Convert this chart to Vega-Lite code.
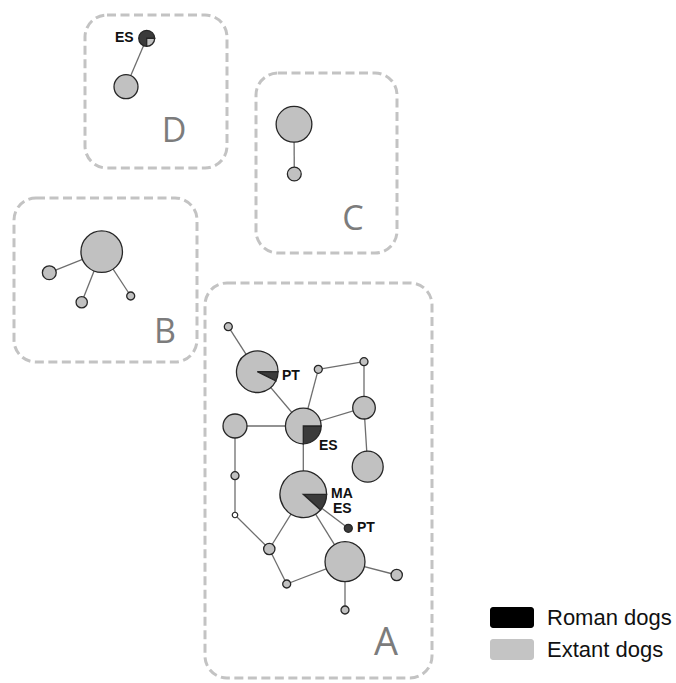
{
  "$schema": "https://vega.github.io/schema/vega-lite/v6.json",
  "width": 676,
  "height": 683,
  "autosize": {"type": "none"},
  "padding": 0,
  "background": "white",
  "config": {"view": {"stroke": null}},
  "datasets": {
    "nodes": [
      {"id": "D1", "x": 146.7, "y": 38.3}, {"id": "D2", "x": 126, "y": 86.7},
      {"id": "C1", "x": 294, "y": 124.3}, {"id": "C2", "x": 294.3, "y": 174},
      {"id": "B1", "x": 101.7, "y": 251.7}, {"id": "B2", "x": 49.3, "y": 272.7},
      {"id": "B3", "x": 81.7, "y": 302.3}, {"id": "B4", "x": 130.7, "y": 296},
      {"id": "A1", "x": 228.3, "y": 326.7}, {"id": "A2", "x": 257.3, "y": 371.7},
      {"id": "A3", "x": 318.3, "y": 369.3}, {"id": "A4", "x": 364, "y": 361.7},
      {"id": "A5", "x": 303.3, "y": 426}, {"id": "A6", "x": 235, "y": 426},
      {"id": "A7", "x": 364, "y": 407.7}, {"id": "A8", "x": 367.7, "y": 466.7},
      {"id": "A9", "x": 235, "y": 475.7}, {"id": "A10", "x": 235, "y": 515},
      {"id": "A11", "x": 303.3, "y": 494.3}, {"id": "A12", "x": 348.3, "y": 528.3},
      {"id": "A13", "x": 269.3, "y": 549}, {"id": "A14", "x": 286.7, "y": 584},
      {"id": "A15", "x": 345, "y": 561.7}, {"id": "A16", "x": 396.7, "y": 575},
      {"id": "A17", "x": 345, "y": 610}
    ],
    "haplotypes": [
      {"node": "D1", "category": "Roman dogs", "count": 3},
      {"node": "D1", "category": "Extant dogs", "count": 1},
      {"node": "D2", "category": "Extant dogs", "count": 9},
      {"node": "C1", "category": "Extant dogs", "count": 20},
      {"node": "C2", "category": "Extant dogs", "count": 3},
      {"node": "B1", "category": "Extant dogs", "count": 27},
      {"node": "B2", "category": "Extant dogs", "count": 3},
      {"node": "B3", "category": "Extant dogs", "count": 2},
      {"node": "B4", "category": "Extant dogs", "count": 1},
      {"node": "A1", "category": "Extant dogs", "count": 1},
      {"node": "A2", "category": "Roman dogs", "count": 2},
      {"node": "A2", "category": "Extant dogs", "count": 25},
      {"node": "A3", "category": "Extant dogs", "count": 1},
      {"node": "A4", "category": "Extant dogs", "count": 1},
      {"node": "A5", "category": "Roman dogs", "count": 5},
      {"node": "A5", "category": "Extant dogs", "count": 15},
      {"node": "A6", "category": "Extant dogs", "count": 9},
      {"node": "A7", "category": "Extant dogs", "count": 8},
      {"node": "A8", "category": "Extant dogs", "count": 15},
      {"node": "A9", "category": "Extant dogs", "count": 1},
      {"node": "A11", "category": "Roman dogs", "count": 4},
      {"node": "A11", "category": "Extant dogs", "count": 30},
      {"node": "A12", "category": "Roman dogs", "count": 1},
      {"node": "A13", "category": "Extant dogs", "count": 2},
      {"node": "A14", "category": "Extant dogs", "count": 1},
      {"node": "A15", "category": "Extant dogs", "count": 25},
      {"node": "A16", "category": "Extant dogs", "count": 2},
      {"node": "A17", "category": "Extant dogs", "count": 1}
    ],
    "medianVectors": [{"node": "A10"}],
    "links": [
      {"from": "D1", "to": "D2"}, {"from": "C1", "to": "C2"},
      {"from": "B1", "to": "B2"}, {"from": "B1", "to": "B3"}, {"from": "B1", "to": "B4"},
      {"from": "A1", "to": "A2"}, {"from": "A2", "to": "A5"}, {"from": "A3", "to": "A5"},
      {"from": "A3", "to": "A4"}, {"from": "A4", "to": "A7"}, {"from": "A7", "to": "A5"},
      {"from": "A7", "to": "A8"}, {"from": "A6", "to": "A5"}, {"from": "A6", "to": "A9"},
      {"from": "A9", "to": "A10"}, {"from": "A5", "to": "A11"}, {"from": "A10", "to": "A13"},
      {"from": "A11", "to": "A13"}, {"from": "A11", "to": "A12"}, {"from": "A11", "to": "A15"},
      {"from": "A13", "to": "A14"}, {"from": "A14", "to": "A15"}, {"from": "A15", "to": "A16"},
      {"from": "A15", "to": "A17"}
    ],
    "clusters": [
      {"cluster": "A", "x0": 205, "x1": 432, "y0": 283, "y1": 678, "lx": 386, "ly": 655, "size": 38},
      {"cluster": "B", "x0": 14, "x1": 197, "y0": 198, "y1": 362, "lx": 165, "ly": 343, "size": 34},
      {"cluster": "C", "x0": 256, "x1": 397, "y0": 73, "y1": 253, "lx": 353, "ly": 230, "size": 34},
      {"cluster": "D", "x0": 85, "x1": 227, "y0": 15, "y1": 168, "lx": 174, "ly": 142, "size": 34}
    ],
    "origins": [
      {"text": "ES", "x": 115, "y": 41.5},
      {"text": "PT", "x": 282, "y": 380},
      {"text": "ES", "x": 319, "y": 449.5},
      {"text": "MA", "x": 331, "y": 498},
      {"text": "ES", "x": 333, "y": 513},
      {"text": "PT", "x": 357, "y": 532}
    ],
    "key": [{"category": "Roman dogs", "node": "B1"}, {"category": "Extant dogs", "node": "B1"}]
  },
  "layer": [
    {
      "data": {"name": "clusters"},
      "mark": {"type": "rect", "filled": false, "stroke": "#c3c3c3", "strokeWidth": 3, "strokeDash": [9, 4.5], "cornerRadius": 22},
      "encoding": {
        "x": {"field": "x0", "type": "quantitative", "scale": {"domain": [0, 676], "nice": false, "zero": false}, "axis": null},
        "x2": {"field": "x1"},
        "y": {"field": "y0", "type": "quantitative", "scale": {"domain": [0, 683], "reverse": true, "nice": false, "zero": false}, "axis": null},
        "y2": {"field": "y1"}
      }
    },
    {
      "data": {"name": "key"},
      "transform": [
        {"lookup": "node", "from": {"data": {"name": "nodes"}, "key": "id", "fields": ["x", "y"]}}
      ],
      "mark": {"type": "point", "shape": "square", "filled": true, "size": 40},
      "encoding": {
        "x": {"field": "x", "type": "quantitative", "scale": {"domain": [0, 676], "nice": false, "zero": false}, "axis": null},
        "y": {"field": "y", "type": "quantitative", "scale": {"domain": [0, 683], "reverse": true, "nice": false, "zero": false}, "axis": null},
        "color": {
          "field": "category",
          "type": "nominal",
          "scale": {"domain": ["Roman dogs", "Extant dogs"], "range": ["#000000", "#c4c4c4"]},
          "legend": {
            "title": null,
            "orient": "none",
            "legendX": 490,
            "legendY": 606.5,
            "padding": 0,
            "symbolType": "M-0.864,-0.477H0.864A0.136,0.136,0,0,1,1,-0.341V0.341A0.136,0.136,0,0,1,0.864,0.477H-0.864A0.136,0.136,0,0,1,-1,0.341V-0.341A0.136,0.136,0,0,1,-0.864,-0.477Z",
            "symbolSize": 1936,
            "symbolStrokeWidth": 0,
            "symbolOpacity": 1,
            "clipHeight": 22,
            "rowPadding": 10,
            "labelOffset": 13,
            "labelFont": "Liberation Sans",
            "labelFontSize": 22,
            "labelColor": "#111111"
          }
        }
      }
    },
    {
      "data": {"name": "links"},
      "transform": [
        {"lookup": "from", "from": {"data": {"name": "nodes"}, "key": "id", "fields": ["x", "y"]}, "as": ["xa", "ya"]},
        {"lookup": "to", "from": {"data": {"name": "nodes"}, "key": "id", "fields": ["x", "y"]}, "as": ["xb", "yb"]}
      ],
      "mark": {"type": "rule", "color": "#6e6e6e", "strokeWidth": 1.3},
      "encoding": {
        "x": {"field": "xa", "type": "quantitative", "scale": {"domain": [0, 676], "nice": false, "zero": false}, "axis": null},
        "x2": {"field": "xb"},
        "y": {"field": "ya", "type": "quantitative", "scale": {"domain": [0, 683], "reverse": true, "nice": false, "zero": false}, "axis": null},
        "y2": {"field": "yb"}
      }
    },
    {
      "data": {"name": "haplotypes"},
      "transform": [
        {"lookup": "node", "from": {"data": {"name": "nodes"}, "key": "id", "fields": ["x", "y"]}},
        {"joinaggregate": [{"op": "sum", "field": "count", "as": "total"}], "groupby": ["node"]},
        {"stack": "count", "groupby": ["node"], "sort": [{"field": "count", "order": "ascending"}], "offset": "normalize", "as": ["t0", "t1"]}
      ],
      "mark": {"type": "arc", "stroke": "#262626", "strokeWidth": 1.3},
      "encoding": {
        "x": {"field": "x", "type": "quantitative", "scale": {"domain": [0, 676], "nice": false, "zero": false}, "axis": null},
        "y": {"field": "y", "type": "quantitative", "scale": {"domain": [0, 683], "reverse": true, "nice": false, "zero": false}, "axis": null},
        "theta": {"field": "t0", "type": "quantitative", "stack": null, "scale": {"domain": [0, 1], "range": [1.5708, 7.854]}},
        "theta2": {"field": "t1"},
        "radius": {"field": "total", "type": "quantitative", "scale": {"type": "sqrt", "domain": [0, 34], "range": [0, 23.3], "zero": true}, "legend": null},
        "fill": {
          "field": "category",
          "type": "nominal",
          "scale": {"domain": ["Roman dogs", "Extant dogs"], "range": ["#3b3b3b", "#c1c1c1"]},
          "legend": null
        }
      }
    },
    {
      "data": {"name": "medianVectors"},
      "transform": [
        {"lookup": "node", "from": {"data": {"name": "nodes"}, "key": "id", "fields": ["x", "y"]}}
      ],
      "mark": {"type": "point", "shape": "circle", "filled": true, "fill": "white", "stroke": "#262626", "strokeWidth": 1.2, "size": 30, "opacity": 1},
      "encoding": {
        "x": {"field": "x", "type": "quantitative", "scale": {"domain": [0, 676], "nice": false, "zero": false}, "axis": null},
        "y": {"field": "y", "type": "quantitative", "scale": {"domain": [0, 683], "reverse": true, "nice": false, "zero": false}, "axis": null}
      }
    },
    {
      "data": {"name": "origins"},
      "mark": {"type": "text", "align": "left", "baseline": "alphabetic", "font": "Liberation Sans", "fontWeight": "bold", "fontSize": 14, "color": "#111111"},
      "encoding": {
        "x": {"field": "x", "type": "quantitative", "scale": {"domain": [0, 676], "nice": false, "zero": false}, "axis": null},
        "y": {"field": "y", "type": "quantitative", "scale": {"domain": [0, 683], "reverse": true, "nice": false, "zero": false}, "axis": null},
        "text": {"field": "text"}
      }
    },
    {
      "data": {"name": "clusters"},
      "mark": {"type": "text", "align": "center", "baseline": "alphabetic", "font": "Open Sans", "color": "#7c7c7c"},
      "encoding": {
        "x": {"field": "lx", "type": "quantitative", "scale": {"domain": [0, 676], "nice": false, "zero": false}, "axis": null},
        "y": {"field": "ly", "type": "quantitative", "scale": {"domain": [0, 683], "reverse": true, "nice": false, "zero": false}, "axis": null},
        "text": {"field": "cluster"},
        "size": {"field": "size", "type": "quantitative", "scale": null, "legend": null}
      }
    }
  ]
}
